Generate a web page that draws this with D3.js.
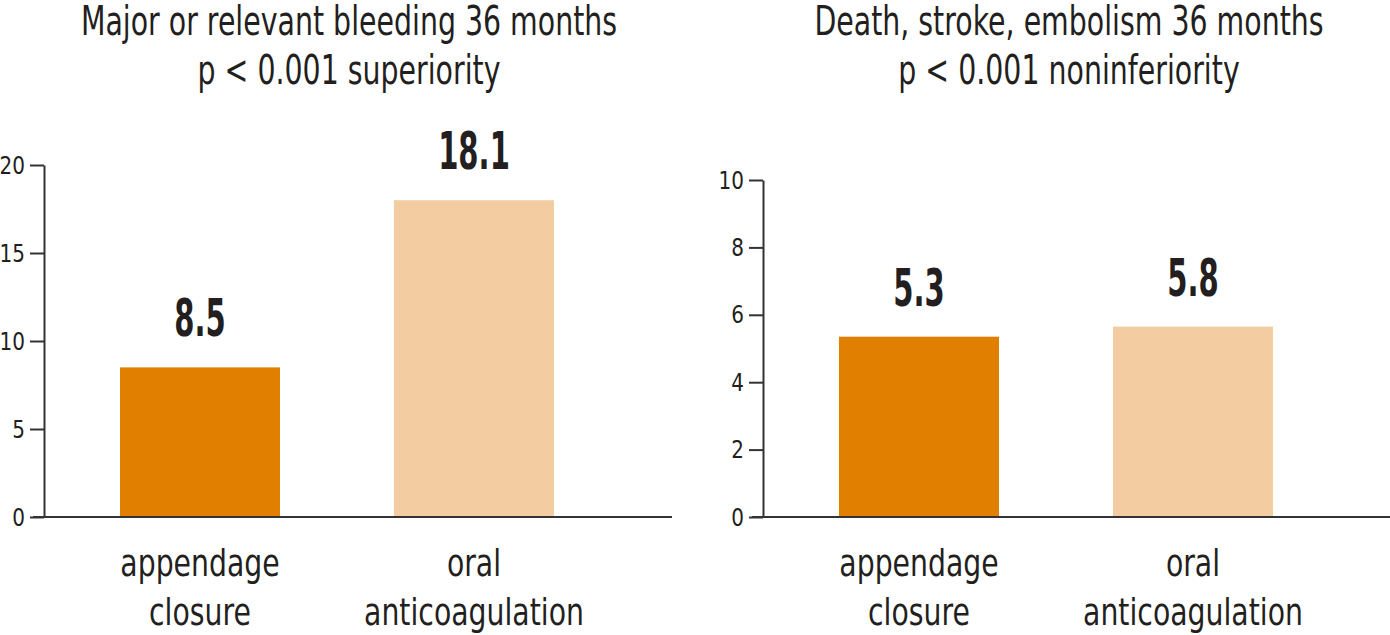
<!DOCTYPE html>
<html>
<head>
<meta charset="utf-8">
<script src="https://cdn.jsdelivr.net/npm/d3@7"></script>
<style>
  body { margin: 0; background: #fff; }
  svg text { font-family: "DejaVu Sans", sans-serif; fill: #231f20; }
</style>
</head>
<body>
<div id="chart"></div>
<script>
// categories (two lines each)
const categories = ["appendage closure", "oral anticoagulation"];
const categoryLines = [["appendage", "closure"], ["oral", "anticoagulation"]];
const barColors = ["#e07f00", "#f4cca1"];

// left panel
const bleedTitle = ["Major or relevant bleeding 36 months", "p < 0.001 superiority"];
const bleedValues = [8.5, 18.0];       // bar heights
const bleedLabels = ["8.5", "18.1"];   // printed numbers
const bleedTicks = [0, 5, 10, 15, 20];

// right panel
const deathTitle = ["Death, stroke, embolism 36 months", "p < 0.001 noninferiority"];
const deathValues = [5.35, 5.65];
const deathLabels = ["5.3", "5.8"];
const deathTicks = [0, 2, 4, 6, 8, 10];

const width = 1390, height = 635;
const svg = d3.select("#chart").append("svg")
  .attr("width", width)
  .attr("height", height);

// squeeze text horizontally to imitate the condensed face of the original
function condense(sel, k) {
  sel.each(function () {
    const w = this.getComputedTextLength();
    d3.select(this)
      .attr("textLength", w * k)
      .attr("lengthAdjust", "spacingAndGlyphs");
  });
}

function drawPanel(p) {
  const g = svg.append("g");

  const y = d3.scaleLinear().domain([0, p.max]).range([517, p.top]);
  const x = d3.scaleBand().domain(categories)
    .range([p.bandStart, p.bandStart + 548])
    .paddingInner(0.416).paddingOuter(0.208);

  // titles
  g.selectAll(".title")
    .data(p.title)
    .enter().append("text")
    .attr("class", "title")
    .attr("x", p.titleX)
    .attr("y", (d, i) => 35 + i * 49)
    .attr("text-anchor", "middle")
    .attr("font-size", "40px")
    .text((d) => d)
    .call(condense, 0.71);

  // bars
  g.selectAll(".bar")
    .data(p.values)
    .enter().append("rect")
    .attr("class", "bar")
    .attr("x", (d, i) => x(categories[i]))
    .attr("y", (d) => y(d))
    .attr("width", x.bandwidth())
    .attr("height", (d) => y(0) - y(d))
    .attr("fill", (d, i) => barColors[i]);

  // value labels
  g.selectAll(".val")
    .data(p.values)
    .enter().append("text")
    .attr("class", "val")
    .attr("x", (d, i) => x(categories[i]) + x.bandwidth() / 2)
    .attr("y", (d) => y(d) - 31)
    .attr("text-anchor", "middle")
    .attr("font-size", "51px")
    .attr("font-weight", "bold")
    .text((d, i) => p.labels[i])
    .call(condense, 0.57);

  // y axis
  const axis = g.append("g")
    .attr("transform", `translate(${p.axisX},0)`)
    .call(d3.axisLeft(y).tickValues(p.ticks).tickSize(14).tickPadding(5).tickSizeOuter(0));
  axis.select(".domain").attr("stroke", "#333").attr("stroke-width", 2);
  axis.selectAll(".tick line").attr("stroke", "#333").attr("stroke-width", 2);
  axis.selectAll(".tick text")
    .attr("font-size", "25px")
    .attr("fill", "#231f20")
    .call(condense, 0.8);

  // baseline
  g.append("line")
    .attr("x1", p.axisX - 11).attr("x2", p.baseEnd)
    .attr("y1", y(0)).attr("y2", y(0))
    .attr("stroke", "#333").attr("stroke-width", 2);

  // category labels, one text per line
  categories.forEach((c, i) => {
    g.selectAll(null)
      .data(categoryLines[i])
      .enter().append("text")
      .attr("x", x(c) + x.bandwidth() / 2)
      .attr("y", (d, j) => 576 + j * 49)
      .attr("text-anchor", "middle")
      .attr("font-size", "38px")
      .text((d) => d)
      .call(condense, 0.745);
  });
}

drawPanel({
  title: bleedTitle, values: bleedValues, labels: bleedLabels, ticks: bleedTicks,
  max: 20, top: 165, axisX: 44, bandStart: 63, baseEnd: 672, titleX: 349
});
drawPanel({
  title: deathTitle, values: deathValues, labels: deathLabels, ticks: deathTicks,
  max: 10, top: 180, axisX: 763, bandStart: 782, baseEnd: 1390, titleX: 1069
});
</script>
</body>
</html>
